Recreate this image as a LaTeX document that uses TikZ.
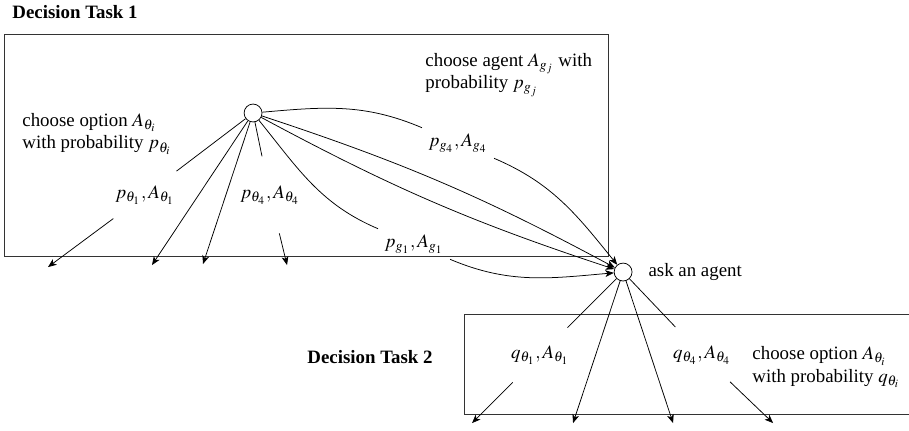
\documentclass[tikz,border=0pt]{standalone}
\usepackage{mathptmx}
\usepackage{fontspec}
\setmainfont{Liberation Serif}
\usetikzlibrary{arrows.meta, positioning}

\begin{document}
\begin{tikzpicture}[
        node distance=0.8cm,
        >={Stealth[length=4.5pt, width=3.6pt, inset=1.2pt]},
        choice/.style={circle, draw=black, fill=white, minimum size=9.5pt, inner sep=0pt},
        prob/.style={circle, inner sep=3.3pt},
        note/.style={align=left, inner sep=0pt, anchor=west},
        title/.style={font=\bfseries, inner sep=0pt},
        task/.style={draw=black!80}
    ]
        \useasboundingbox (0,0) rectangle (16.93,8.01);

        % Task boxes
        \draw[task] (0.075,3.241) rectangle (11.325,7.376);
        \draw[task] (8.643,0.298) rectangle (17.2,2.161);
        \node[title, anchor=west] (task1) at (0.224,7.786) {Decision Task 1};
        \node[title] (task2) at (6.892,1.360) {Decision Task 2};

        % Decision points
        \node[choice] (c1) at (4.713,5.905) {};
        \node[choice] (c2) at (11.605,2.943) {};
        \node[right=5pt of c2] (ask) {ask an agent};

        % Texts
        \node[note] (opt1) at (0.410,5.514) {choose option $A_{\theta_i}$\\with probability $p_{\theta_i}$};
        \node[note] (agent) at (7.917,6.613) {choose agent $A_{g_j}$ with\\probability $p_{g_j}$};
        \node[note] (opt2) at (14.008,1.173) {choose option $A_{\theta_i}$\\with probability $q_{\theta_i}$};

        % Probability labels
        \node[prob] (lt1) at (2.701,4.377) {$p_{\theta_1}, A_{\theta_1}$};
        \node[prob] (lt4) at (5.029,4.377) {$p_{\theta_4}, A_{\theta_4}$};
        \node[prob] (lg4) at (8.531,5.346) {$p_{g_4}, A_{g_4}$};
        \node[prob] (lg1) at (7.712,3.465) {$p_{g_1}, A_{g_1}$};
        \node[prob] (lq1) at (10.059,1.397) {$q_{\theta_1}, A_{\theta_1}$};
        \node[prob] (lq4) at (13.076,1.397) {$q_{\theta_4}, A_{\theta_4}$};

        % Arrow ends
        \coordinate (t1) at (0.894,3.036);
        \coordinate (t2) at (2.831,3.073);
        \coordinate (t3) at (3.781,3.092);
        \coordinate (t4) at (5.346,3.073);
        \coordinate (u1) at (8.792,0.130);
        \coordinate (u2) at (10.673,0.130);
        \coordinate (u3) at (12.536,0.130);
        \coordinate (u4) at (14.399,0.130);

        % Task 1 options
        \draw[->] (c1) -- (lt1) -- (t1);
        \draw[->] (c1) -- (t2);
        \draw[->] (c1) -- (t3);
        \draw[->] (c1) -- (lt4) -- (t4);

        % Agents
        \draw[->] (c1) to[out=5, in=157] (lg4) to[out=-23, in=129] (c2);
        \draw[->] (c1) to[bend left=5] (c2);
        \draw[->] (c1) to[bend right=5] (c2);
        \draw[->] (c1) to[out=-51, in=157] (lg1) to[out=-23, in=185] (c2);

        % Task 2 options
        \draw[->] (c2) -- (lq1) -- (u1);
        \draw[->] (c2) -- (u2);
        \draw[->] (c2) -- (u3);
        \draw[->] (c2) -- (lq4) -- (u4);

    \end{tikzpicture}
\end{document}
